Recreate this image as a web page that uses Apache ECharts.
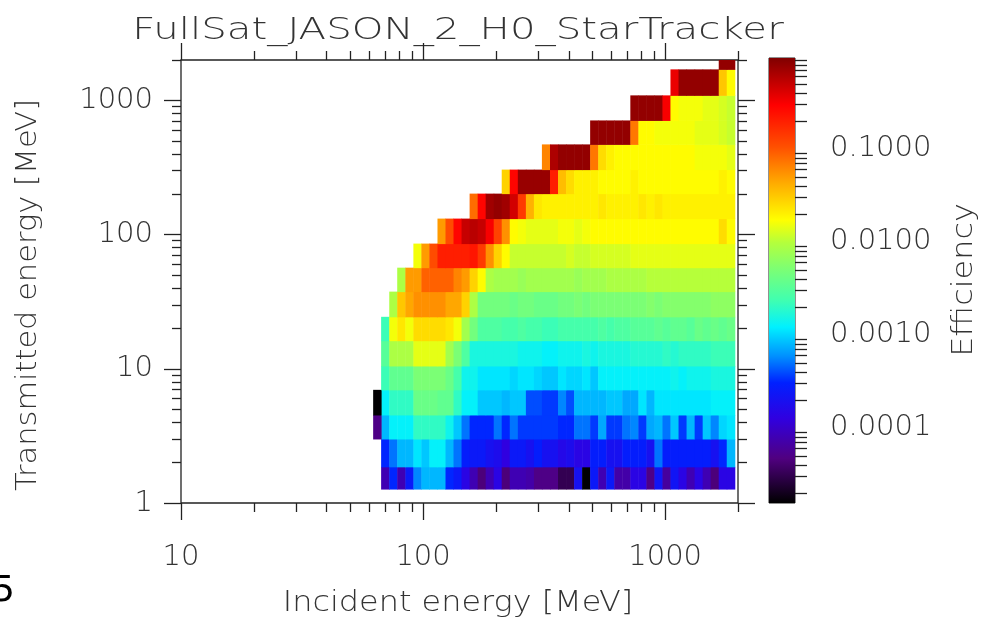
<!DOCTYPE html>
<html>
<head>
<meta charset="utf-8">
<script src="https://cdn.jsdelivr.net/npm/echarts@6/dist/echarts.min.js"></script>
<style>html,body{margin:0;padding:0;background:#fff}#main{width:986px;height:620px}</style>
</head>
<body>
<div id="main"></div>
<script>
// 入射能量 bin 边界 (MeV)
var xEdges = [67.1,72.5,78.2,84.5,91.2,98.4,106.2,114.7,123.8,133.6,144.2,155.7,168.1,181.4,195.8,211.3,228.1,246.3,265.9,287.0,
  309.7,334.4,360.9,389.6,420.6,454.0,490.0,529.0,571.0,616.4,665.3,718.2,775.3,836.8,903.3,975.0,1052,1136,1226,1324,1429,1542,1665,1797,1940];
var extraEdge = [62.2, 67.1];
// 透射能量 bin 边界 (MeV)
var yEdges = [1.27,1.86,3.0,4.53,6.97,10.5,16.2,24.4,37.6,56.7,85.7,131.6,202,305,470,709,1090,1703,2000];
// 每行起始列
var rowStart = [0,0,0,0,0,0,0,1,2,4,7,11,15,20,26,31,36,42];
// 每行效率 (log10)
var r0 = [-4.1,-3.5,-4.1,-3.6,-3.25,-3.1,-3.1,-3.1,-3.5,-3.6,-3.85,-4.1,-4.35,-4.1,-3.85,-4.35,-4.1,-4.1,-4.15,-4.3,-4.3,-4.3,-4.5,-4.5,-3.7,-4.8,-3.6,-4.1,-3.6,-4.15,-4.15,-3.85,-3.85,-4.3,-3.65,-4.2,-3.65,-3.85,-4.1,-3.85,-4.1,-4.35,-3.85,-3.85];
var r1 = [-3.5,-3.3,-3.1,-3.1,-2.95,-3.05,-2.9,-2.9,-3.1,-3.3,-3.55,-3.6,-3.6,-3.7,-3.75,-3.9,-3.6,-3.6,-3.7,-3.55,-3.7,-3.7,-3.8,-3.75,-3.85,-3.85,-3.55,-3.55,-3.7,-3.7,-3.55,-3.55,-3.55,-3.7,-3.3,-3.55,-3.55,-3.55,-3.55,-3.55,-3.55,-3.7,-3.5,-3.1];
var r2 = [-3.1,-2.9,-2.9,-2.9,-2.7,-2.7,-2.7,-2.7,-2.85,-3.05,-3.3,-3.5,-3.5,-3.5,-3.3,-3.5,-3.3,-3.45,-3.45,-3.45,-3.45,-3.45,-3.5,-3.5,-3.3,-3.3,-3.45,-3.15,-3.45,-3.45,-3.3,-3.25,-3.45,-3.15,-3.1,-3.3,-3.05,-3.45,-3.1,-3.45,-3.05,-3.25,-3.0,-2.95];
var r3 = [-2.9,-2.7,-2.7,-2.7,-2.4,-2.4,-2.4,-2.45,-2.45,-2.7,-2.9,-2.9,-3.05,-3.05,-3.05,-3.1,-3.05,-3.05,-3.4,-3.4,-3.45,-3.45,-3.25,-3.4,-3.1,-3.1,-3.1,-3.1,-3.05,-3.05,-3.15,-3.15,-2.95,-3.1,-2.95,-2.95,-2.95,-2.95,-2.95,-2.95,-2.95,-2.9,-2.9,-2.9];
var r4 = [-2.65,-2.45,-2.45,-2.45,-2.3,-2.3,-2.3,-2.3,-2.4,-2.6,-2.85,-2.85,-2.95,-2.95,-2.95,-2.95,-3.0,-2.95,-2.95,-3.0,-3.05,-3.05,-2.95,-3.0,-3.0,-2.95,-3.05,-2.9,-2.9,-2.9,-2.9,-2.9,-2.9,-2.9,-2.9,-2.9,-2.85,-2.9,-2.85,-2.85,-2.85,-2.8,-2.8,-2.8];
var r5 = [-2.5,-2.05,-2.05,-2.05,-1.85,-1.85,-1.85,-1.85,-2.1,-2.3,-2.55,-2.8,-2.8,-2.8,-2.8,-2.8,-2.8,-2.85,-2.85,-2.85,-2.9,-2.9,-2.85,-2.85,-2.85,-2.8,-2.85,-2.8,-2.8,-2.8,-2.8,-2.75,-2.75,-2.75,-2.75,-2.7,-2.75,-2.7,-2.7,-2.7,-2.7,-2.65,-2.65,-2.65];
var r6 = [-2.65,-1.8,-1.65,-1.8,-1.6,-1.6,-1.6,-1.6,-1.65,-1.8,-2.1,-2.35,-2.55,-2.55,-2.55,-2.6,-2.6,-2.55,-2.6,-2.6,-2.65,-2.65,-2.6,-2.6,-2.6,-2.6,-2.6,-2.55,-2.6,-2.55,-2.55,-2.5,-2.5,-2.5,-2.45,-2.5,-2.45,-2.45,-2.5,-2.4,-2.45,-2.4,-2.45,-2.4];
var r7 = [-2.05,-1.5,-1.35,-1.25,-1.25,-1.25,-1.25,-1.35,-1.35,-1.55,-2.05,-2.35,-2.35,-2.35,-2.35,-2.4,-2.35,-2.35,-2.4,-2.4,-2.4,-2.35,-2.35,-2.3,-2.35,-2.3,-2.3,-2.3,-2.3,-2.3,-2.3,-2.3,-2.25,-2.3,-2.25,-2.25,-2.25,-2.25,-2.25,-2.25,-2.2,-2.2,-2.2];
var r8 = [-2.05,-1.3,-1.3,-1.05,-1.05,-1.05,-1.05,-1.2,-1.3,-1.55,-1.75,-2.05,-2.1,-2.1,-2.1,-2.15,-2.1,-2.1,-2.1,-2.1,-2.1,-2.1,-2.15,-2.1,-2.1,-2.1,-2.05,-2.05,-2.05,-2.05,-2.05,-2.0,-2.0,-2.0,-2.0,-2.0,-2.0,-2.0,-2.0,-2.0,-2.0,-2.0];
var r9 = [-1.8,-1.3,-0.95,-0.7,-0.7,-0.7,-0.7,-0.65,-0.85,-1.25,-1.55,-1.75,-1.95,-1.95,-1.95,-1.95,-1.95,-1.95,-1.95,-1.9,-1.95,-1.95,-1.9,-1.9,-1.9,-1.9,-1.9,-1.85,-1.85,-1.85,-1.85,-1.85,-1.85,-1.85,-1.85,-1.85,-1.85,-1.85,-1.85,-1.85];
var r10 = [-1.3,-0.95,-0.55,-0.3,-0.25,-0.3,-0.5,-0.9,-1.25,-1.75,-1.8,-1.85,-1.85,-1.85,-1.85,-1.8,-1.8,-1.85,-1.8,-1.75,-1.75,-1.75,-1.75,-1.75,-1.75,-1.75,-1.75,-1.75,-1.75,-1.75,-1.75,-1.75,-1.75,-1.75,-1.75,-1.6,-1.75];
var r11 = [-1.1,-0.55,-0.15,-0.1,-0.15,-0.35,-0.85,-1.4,-1.65,-1.7,-1.7,-1.7,-1.7,-1.7,-1.7,-1.7,-1.65,-1.7,-1.7,-1.7,-1.7,-1.65,-1.7,-1.65,-1.7,-1.7,-1.7,-1.7,-1.7,-1.7,-1.7,-1.7,-1.7];
var r12 = [-1.55,-0.55,-0.12,-0.12,-0.12,-0.12,-0.7,-1.45,-1.6,-1.7,-1.7,-1.7,-1.75,-1.75,-1.75,-1.75,-1.7,-1.75,-1.75,-1.75,-1.75,-1.75,-1.75,-1.75,-1.75,-1.75,-1.75,-1.7,-1.75];
var r13 = [-1.2,-0.2,-0.1,-0.1,-0.1,-0.1,-1.15,-1.6,-1.7,-1.75,-1.75,-1.75,-1.75,-1.75,-1.75,-1.75,-1.75,-1.75,-1.75,-1.8,-1.8,-1.8,-1.8,-1.85];
var r14 = [-0.1,-0.1,-0.1,-0.1,-0.1,-1.15,-1.75,-1.75,-1.8,-1.8,-1.8,-1.8,-1.8,-1.85,-1.85,-1.85,-1.9,-1.95];
var r15 = [-0.1,-0.1,-0.1,-0.1,-0.5,-1.75,-1.8,-1.8,-1.8,-1.85,-1.85,-1.9,-1.95];
var r16 = [-0.45,-0.1,-0.1,-0.1,-0.1,-0.1,-1.5,-1.75];
var r17 = [-0.1,-0.1];
var rowVals = [r0,r1,r2,r3,r4,r5,r6,r7,r8,r9,r10,r11,r12,r13,r14,r15,r16,r17];
// 最左侧额外列 (第2、3行)
var extraVals = [null,null,-4.3,-4.8];

var xMajor = [10,100,1000];
var xMinor = [20,30,40,50,60,70,80,90,200,300,400,500,600,700,800,900,2000];
var yMajor = [1,10,100,1000];
var yMinor = [2,3,4,5,6,7,8,9,20,30,40,50,60,70,80,90,200,300,400,500,600,700,800,900,2000];
var cbMajor = [0.1,0.01,0.001,0.0001];
var cbMinor = [0.2,0.3,0.4,0.5,0.6,0.7,0.8,0.9,0.02,0.03,0.04,0.05,0.06,0.07,0.08,0.09,
  0.002,0.003,0.004,0.005,0.006,0.007,0.008,0.009,0.0002,0.0003,0.0004,0.0005,0.0006,0.0007,0.0008,0.0009,
  0.00002,0.00003,0.00004,0.00005,0.00006,0.00007,0.00008,0.00009];
var cbMin = 1.56e-5, cbMax = 0.95;

// 色表
var stops = [[0,'#000000'],[0.1,'#500080'],[0.19,'#3000e0'],[0.27,'#0020ff'],[0.33,'#0090ff'],[0.395,'#00f0ff'],
  [0.456,'#40ffb0'],[0.53,'#80ff70'],[0.585,'#b4ff3c'],[0.636,'#ffff00'],[0.72,'#ffaa00'],[0.8,'#ff5000'],[0.894,'#ff0000'],[1,'#800000']];
function hex(c){return [parseInt(c.substr(1,2),16),parseInt(c.substr(3,2),16),parseInt(c.substr(5,2),16)];}
function colorOf(v){
    var lo = Math.log10(cbMin), hi = Math.log10(cbMax);
    var f = Math.max(0, Math.min(1, (v - lo) / (hi - lo)));
    for (var i = 1; i < stops.length; i++) {
        if (f <= stops[i][0]) {
            var a = hex(stops[i-1][1]), b = hex(stops[i][1]);
            var t = (f - stops[i-1][0]) / (stops[i][0] - stops[i-1][0]);
            return 'rgb(' + [0,1,2].map(function(k){return Math.round(a[k] + (b[k]-a[k])*t);}).join(',') + ')';
        }
    }
    return stops[stops.length-1][1];
}

var cells = [];
rowVals.forEach(function(vals, r){
    vals.forEach(function(v, k){
        var c = rowStart[r] + k;
        cells.push([xEdges[c], xEdges[c+1], yEdges[r], yEdges[r+1], v]);
    });
    if (extraVals[r] != null) cells.push([extraEdge[0], extraEdge[1], yEdges[r], yEdges[r+1], extraVals[r]]);
});

var FONT = 'DejaVu Sans';
var TXT = '#333';
function plain(v){ return String(+v); }
function tickAxis(pos, idx, vals, len, labels, extra){
    var a = {
        type: 'log', logBase: 10, gridIndex: idx, position: pos,
        axisLine: { show: false },
        splitLine: { show: false },
        axisTick: { show: true, inside: false, length: len, customValues: vals, lineStyle: { color: '#222', width: 1.3 } },
        axisLabel: { show: labels, customValues: vals, color: TXT, fontFamily: FONT, fontSize: 29, fontWeight: 200, margin: 14, formatter: plain },
        minorTick: { show: false }
    };
    for (var k in extra) a[k] = extra[k];
    return a;
}
function lab(vals, margin, fmt){
    return { show: true, customValues: vals, color: TXT, fontFamily: FONT, fontSize: 29, fontWeight: 200, margin: margin, formatter: fmt || plain };
}
var xr = { min: 10, max: 2000 }, yr = { min: 1, max: 2000 };
var chart = echarts.init(document.getElementById('main'));
chart.setOption({
    animation: false,
    backgroundColor: '#fff',
    grid: [
        { left: 181, right: 248, top: 60, bottom: 117, show: true, borderColor: '#222', borderWidth: 1.3, backgroundColor: 'transparent' },
        { left: 769, width: 26, top: 58, bottom: 117, show: true, borderColor: '#222', borderWidth: 1 }
    ],
    xAxis: [
        tickAxis('bottom',0,xMajor,17,true,{ min: 10, max: 2000, axisLabel: lab(xMajor, 40) }),
        tickAxis('bottom',0,xMinor,9,false,xr),
        tickAxis('top',0,xMajor,17,false,xr),
        tickAxis('top',0,xMinor,9,false,xr),
        { type: 'value', gridIndex: 1, min: 0, max: 1, show: false }
    ],
    yAxis: [
        tickAxis('left',0,yMajor,17,true,{ min: 1, max: 2000, axisLabel: lab(yMajor, 28) }),
        tickAxis('left',0,yMinor,9,false,yr),
        tickAxis('right',0,yMajor,17,false,yr),
        tickAxis('right',0,yMinor,9,false,yr),
        tickAxis('right',1,cbMajor,25,true,{ min: cbMin, max: cbMax, axisLabel: lab(cbMajor, 35, function(v){ return (+v).toFixed(4); }) }),
        tickAxis('right',1,cbMinor,12,false,{ min: cbMin, max: cbMax })
    ],
    graphic: [
        { type: 'text', x: 458, y: 15, scaleX: 1.3, style: { text: 'FullSat_JASON_2_H0_StarTracker', fill: TXT, font: '200 31px "DejaVu Sans"', textAlign: 'center' } },
        { type: 'text', x: 458, y: 589, scaleX: 1.1, style: { text: 'Incident energy [MeV]', fill: TXT, font: '200 29px "DejaVu Sans"', textAlign: 'center' } },
        { type: 'text', x: 14, y: 295, rotation: Math.PI/2, scaleX: 1.05, style: { text: 'Transmitted energy [MeV]', fill: TXT, font: '200 29px "DejaVu Sans"', textAlign: 'center', textVerticalAlign: 'top' } },
        { type: 'text', x: 950, y: 280, rotation: Math.PI/2, scaleX: 1.1, style: { text: 'Efficiency', fill: TXT, font: '200 29px "DejaVu Sans"', textAlign: 'center', textVerticalAlign: 'top' } },
        { type: 'text', left: -8, top: 574, style: { text: '5', fill: '#000', font: '36px "DejaVu Sans"' } }
    ],
    series: [
        {
            type: 'custom', xAxisIndex: 0, yAxisIndex: 0, data: cells,
            encode: { x: [0,1], y: [2,3] },
            renderItem: function(params, api){
                var p0 = api.coord([api.value(0), api.value(3)]);
                var p1 = api.coord([api.value(1), api.value(2)]);
                var cs = params.coordSys;
                var rect = echarts.graphic.clipRectByRect(
                    { x: p0[0], y: p0[1], width: p1[0]-p0[0] + 0.5, height: p1[1]-p0[1] + 0.5 },
                    { x: cs.x, y: cs.y, width: cs.width, height: cs.height });
                return rect && { type: 'rect', shape: rect, style: { fill: colorOf(api.value(4)) } };
            }
        },
        {
            type: 'custom', xAxisIndex: 4, yAxisIndex: 4, data: [[0, 1, cbMin, cbMax]],
            encode: { x: [0,1], y: [2,3] },
            renderItem: function(params, api){
                var p0 = api.coord([0, cbMax]), p1 = api.coord([1, cbMin]);
                return { type: 'rect', shape: { x: p0[0], y: p0[1], width: p1[0]-p0[0], height: p1[1]-p0[1] },
                    style: { fill: new echarts.graphic.LinearGradient(0, 1, 0, 0, stops.map(function(s){ return { offset: s[0], color: s[1] }; })) } };
            }
        }
    ]
});
</script>
</body>
</html>
